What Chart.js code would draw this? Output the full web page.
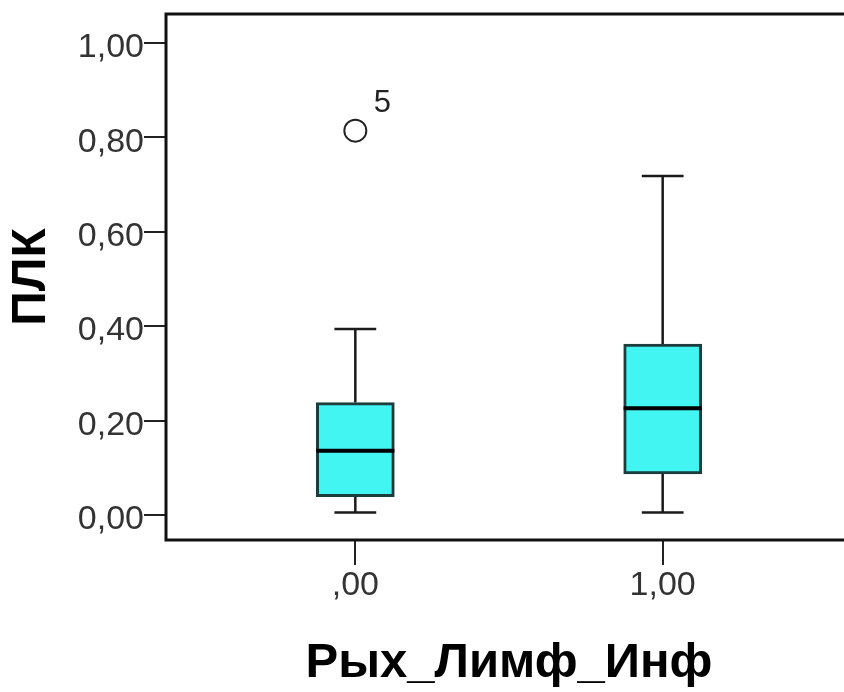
<!DOCTYPE html>
<html>
<head>
<meta charset="utf-8">
<script src="https://cdn.jsdelivr.net/npm/chart.js@4/dist/chart.umd.min.js"></script>
<style>
  html, body { margin: 0; padding: 0; background: #fff; overflow: hidden; }
</style>
</head>
<body>
<canvas id="chart" width="880" height="692"></canvas>
<script>
// groups on the x axis
var GROUPS = [0, 1];
var GROUP_LABELS = [",00", "1,00"];

// box statistics per group
var MIN_VALS = [0.005, 0.005];
var Q1_VALS = [0.039, 0.087];
var MEDIANS = [0.136, 0.226];
var Q3_VALS = [0.238, 0.362];
var MAX_VALS = [0.394, 0.718];

// outliers
var OUTLIER_X = [0];
var OUTLIER_Y = [0.814];
var OUTLIER_IDS = ["5"];

var Y_TICKS = [0, 0.2, 0.4, 0.6, 0.8, 1.0];

// widths in x-axis units
var BOX_HALF = 0.127;
var CAP_HALF = 0.068;

function fmt(v) {
  return v.toFixed(2).replace(".", ",");
}

var boxes = GROUPS.map(function (g, i) {
  return { x: g, y: [Q1_VALS[i], Q3_VALS[i]] };
});

var whiskers = [];
GROUPS.forEach(function (g, i) {
  whiskers.push({ x: g, y: Q3_VALS[i] }, { x: g, y: MAX_VALS[i] }, { x: g, y: null });
  whiskers.push({ x: g - CAP_HALF, y: MAX_VALS[i] }, { x: g + CAP_HALF, y: MAX_VALS[i] }, { x: g, y: null });
  whiskers.push({ x: g, y: Q1_VALS[i] }, { x: g, y: MIN_VALS[i] }, { x: g, y: null });
  whiskers.push({ x: g - CAP_HALF, y: MIN_VALS[i] }, { x: g + CAP_HALF, y: MIN_VALS[i] }, { x: g, y: null });
});

var medians = [];
GROUPS.forEach(function (g, i) {
  medians.push({ x: g - BOX_HALF, y: MEDIANS[i] }, { x: g + BOX_HALF, y: MEDIANS[i] }, { x: g, y: null });
});

var outliers = OUTLIER_X.map(function (x, i) {
  return { x: x, y: OUTLIER_Y[i] };
});

// frame around the plot area
var framePlugin = {
  id: "frame",
  afterDraw: function (chart) {
    var a = chart.chartArea, ctx = chart.ctx;
    ctx.save();
    ctx.strokeStyle = "#111";
    ctx.lineWidth = 3;
    ctx.strokeRect(a.left, a.top, a.right - a.left, a.bottom - a.top);
    ctx.restore();
  }
};

// case number next to each outlier
var outlierLabels = {
  id: "outlierLabels",
  afterDatasetsDraw: function (chart) {
    var meta = chart.getDatasetMeta(3);
    var ctx = chart.ctx;
    ctx.save();
    ctx.fillStyle = "#222";
    ctx.font = "31px 'Liberation Sans', Arial, sans-serif";
    ctx.textAlign = "center";
    ctx.textBaseline = "middle";
    meta.data.forEach(function (pt, i) {
      ctx.fillText(OUTLIER_IDS[i], pt.x + 27, pt.y - 27);
    });
    ctx.restore();
  }
};

// fixed axis sizes, no extra label padding
function fixY(scale) {
  scale.width = 166;
  scale.paddingTop = 0;
  scale.paddingBottom = 0;
}
function fixX(scale) {
  scale.height = 152;
  scale.paddingLeft = 0;
  scale.paddingRight = 0;
}

var ctx = document.getElementById("chart").getContext("2d");
var chart = new Chart(ctx, {
  type: "bar",
  data: {
    datasets: [
      {
        type: "bar",
        data: boxes,
        backgroundColor: "#42f4f2",
        borderColor: "#1d3d3d",
        borderWidth: 3,
        borderSkipped: false,
        barThickness: 78,
        order: 2,
      },
      {
        type: "line",
        data: whiskers,
        borderColor: "#1a1a1a",
        borderWidth: 2.5,
        pointRadius: 0,
        spanGaps: false,
        fill: false,
        order: 3,
      },
      {
        type: "line",
        data: medians,
        borderColor: "#000",
        borderWidth: 4,
        pointRadius: 0,
        spanGaps: false,
        fill: false,
        order: 0,
      },
      {
        type: "scatter",
        data: outliers,
        pointStyle: "circle",
        pointRadius: 11,
        borderColor: "#222",
        borderWidth: 2,
        backgroundColor: "rgba(255,255,255,0)",
        order: 1,
      },
    ],
  },
  options: {
    responsive: false,
    animation: false,
    layout: { padding: { top: 14, right: 28, left: 0, bottom: 0 } },
    plugins: {
      legend: { display: false },
      tooltip: { enabled: false },
    },
    scales: {
      x: {
        type: "linear",
        min: -0.616,
        max: 1.616,
        offset: false,
        afterBuildTicks: function (scale) {
          scale.ticks = GROUPS.map(function (v) { return { value: v }; });
        },
        afterFit: fixX,
        grid: {
          offset: false,
          drawOnChartArea: false,
          tickLength: 25,
          color: "#222",
          lineWidth: 2,
        },
        border: { display: false },
        ticks: {
          padding: 0,
          color: "#333",
          font: { family: "'Liberation Sans', Arial, sans-serif", size: 34 },
          callback: function (value, index) { return GROUP_LABELS[index]; },
        },
        title: {
          display: true,
          text: "Рых_Лимф_Инф",
          color: "#000",
          padding: { top: 0, bottom: 4 },
          font: { family: "'Liberation Sans', Arial, sans-serif", size: 49, weight: "bold", lineHeight: 1 },
        },
      },
      y: {
        type: "linear",
        min: -0.053,
        max: 1.061,
        afterBuildTicks: function (scale) {
          scale.ticks = Y_TICKS.map(function (v) { return { value: v }; });
        },
        afterFit: fixY,
        grid: {
          drawOnChartArea: false,
          tickLength: 22,
          color: "#222",
          lineWidth: 2,
        },
        border: { display: false },
        ticks: {
          padding: 0,
          labelOffset: 5,
          color: "#333",
          font: { family: "'Liberation Sans', Arial, sans-serif", size: 34 },
          callback: function (value) { return fmt(value); },
        },
        title: {
          display: true,
          text: "ПЛК",
          color: "#000",
          padding: { top: 8, bottom: 0 },
          font: { family: "'Liberation Sans', Arial, sans-serif", size: 48, weight: "bold", lineHeight: 1 },
        },
      },
    },
  },
  plugins: [framePlugin, outlierLabels],
});
</script>
</body>
</html>
